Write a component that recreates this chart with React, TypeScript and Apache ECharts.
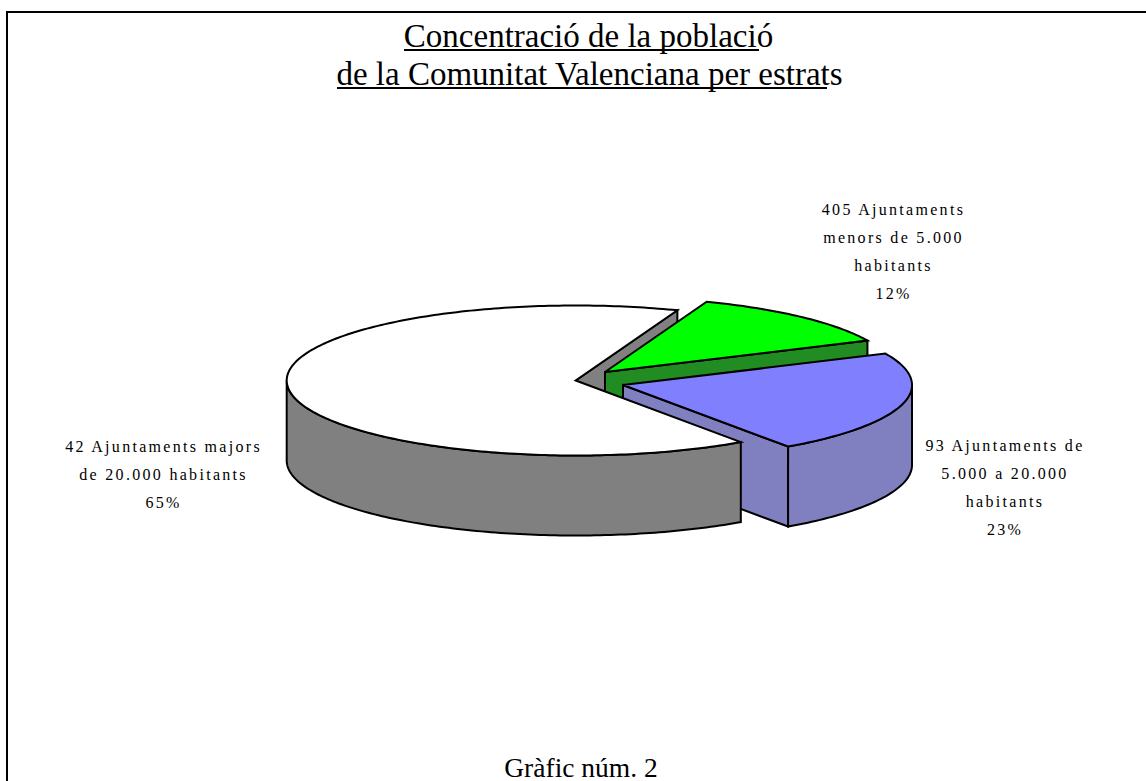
import React, { useEffect, useRef } from "react";
import * as echarts from "echarts";

// Data
const sliceNames = ["405 Ajuntaments menors de 5.000 habitants", "93 Ajuntaments de 5.000 a 20.000 habitants", "42 Ajuntaments majors de 20.000 habitants"];
const sliceShares = [12.4, 22.2, 65.4];
const shownPercents = ["12%", "23%", "65%"];
const labelLines = [
  ["405 Ajuntaments", "menors de 5.000", "habitants"],
  ["93 Ajuntaments de", "5.000 a 20.000", "habitants"],
  ["42 Ajuntaments majors", "de 20.000 habitants"],
];
const titleLines = ["Concentració de la població", "de la Comunitat Valenciana per estrats"];
const footerText = "Gràfic núm. 2";

// Styles and layout
const topColors = ["#00ff00", "#8080ff", "#ffffff"];
const wallColors = ["#218c21", "#8080c0", "#808080"];
const apexes = [[605, 372], [623, 385], [575.7, 380.5]];
const labelAnchors = [[893.5, 209], [1005, 445], [163.6, 446]];
const RX = 289;
const RY = 75;
const DEPTH = 80;
const START_DEG = 69.4;
const FONT = '"Liberation Serif", "Times New Roman", serif';

const rad = (d: number) => (d * Math.PI) / 180;
const pt = (c: number[], deg: number, dy = 0) => [c[0] + RX * Math.cos(rad(deg)), c[1] - RY * Math.sin(rad(deg)) + dy];
const arc = (c: number[], from: number, to: number, dy = 0) => {
  const n = Math.max(2, Math.ceil(Math.abs(from - to)));
  const out: number[][] = [];
  for (let i = 0; i <= n; i++) out.push(pt(c, from + ((to - from) * i) / n, dy));
  return out;
};

const ranges = (() => {
  let a = START_DEG;
  const total = sliceShares.reduce((s, v) => s + v, 0);
  return sliceShares.map((v) => {
    const b = a - (v / total) * 360;
    const r = [a, b];
    a = b;
    return r;
  });
})();

function renderSlice(params: any, api: any) {
  const i = params.dataIndex;
  void api.value(0);
  const c = apexes[i];
  const [a0, a1] = ranges[i];
  const stroke = { stroke: "#000", lineWidth: 2, lineJoin: "miter" };
  const poly = (points: number[][], fill: string, z2: number) => ({
    type: "polygon",
    z2,
    shape: { points },
    style: { fill, ...stroke },
  });
  const base = (i + 1) * 10;
  const children: any[] = [];
  // the cut face at the end of the slice
  const e = pt(c, a1);
  children.push(
    poly([c, e, [e[0], e[1] + DEPTH], [c[0], c[1] + DEPTH]], wallColors[i], i === 2 ? 1 : base)
  );
  // the visible rim
  const r0 = Math.min(a0, 0);
  const r1 = Math.max(a1, -180);
  if (r0 > r1) {
    children.push(poly([...arc(c, r0, r1), ...arc(c, r1, r0, DEPTH)], wallColors[i], base + 1));
  }
  // the top
  children.push(poly([c, ...arc(c, a0, a1)], topColors[i], base + 2));
  return { type: "group", children };
}

const textEl = (text: string, x: number, y: number, size: number) => ({
  type: "text",
  x,
  y,
  silent: true,
  style: { text, fill: "#000", font: `${size}px ${FONT}`, align: "center", verticalAlign: "middle" },
});
const lineEl = (x1: number, y1: number, x2: number, y2: number) => ({
  type: "line",
  silent: true,
  shape: { x1, y1, x2, y2 },
  style: { stroke: "#000", lineWidth: 2 },
});

export default function App() {
  const ref = useRef<HTMLDivElement>(null);
  useEffect(() => {
    document.body.style.margin = "0";
    const chart = echarts.init(ref.current!, undefined, { renderer: "svg" });
    const sliceLabels = labelLines.flatMap((lines, i) => {
      const all = [...lines, shownPercents[i]];
      return all.map((t, k) => textEl(t, labelAnchors[i][0], labelAnchors[i][1] + k * 28.3, 16));
    });
    chart.setOption({
      animation: false,
      backgroundColor: "#ffffff",
      series: [
        {
          type: "custom",
          coordinateSystem: "none",
          silent: true,
          data: sliceShares.map((value, i) => ({ name: sliceNames[i], value: [value] })),
          renderItem: renderSlice,
        },
      ],
      graphic: [
        lineEl(6, 12, 1146, 12),
        lineEl(7, 11, 7, 781),
        textEl(titleLines[0], 588.5, 35.5, 33),
        textEl(titleLines[1], 589.5, 73.5, 33),
        lineEl(404, 50, 759, 50),
        lineEl(337, 88, 827, 88),
        textEl(footerText, 581, 767, 27.5),
        ...sliceLabels,
      ],
    });
    ref.current!.querySelectorAll("text").forEach((t) => {
      if ((t.getAttribute("style") || "").includes("16px")) t.style.letterSpacing = "2.3px";
    });
    return () => chart.dispose();
  }, []);
  return <div ref={ref} style={{ position: "fixed", left: 0, top: 0, width: 1146, height: 781 }} />;
}
